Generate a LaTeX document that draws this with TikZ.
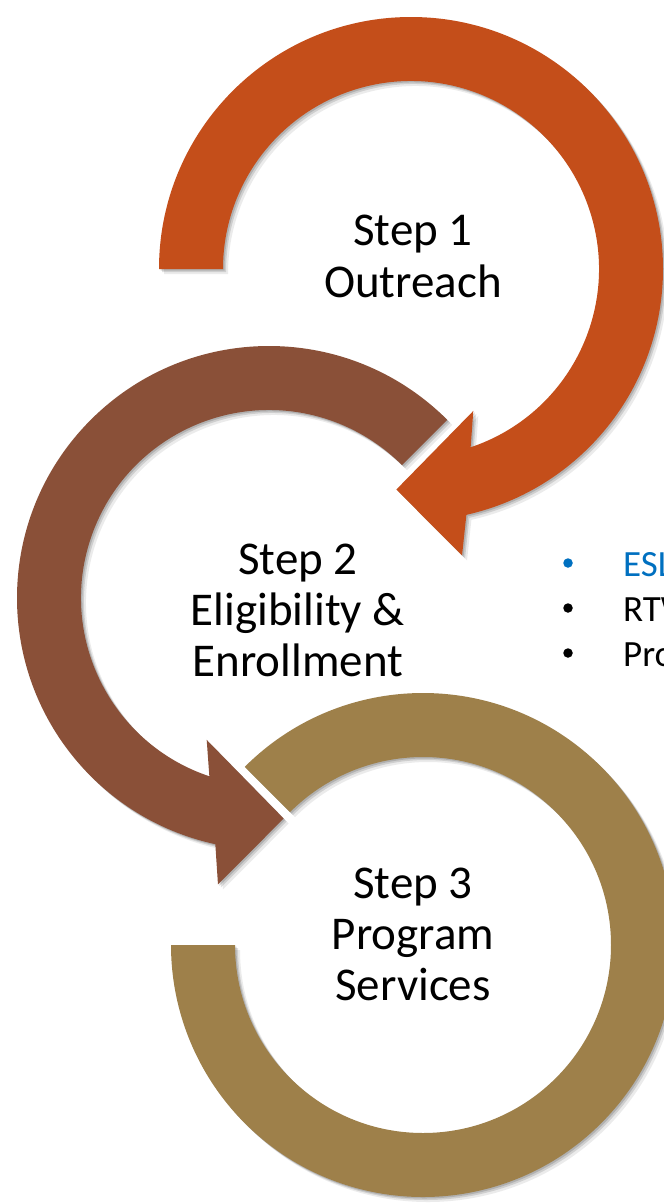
\documentclass[tikz,border=0pt]{standalone}
\usepackage{fontspec}
\setmainfont{Carlito}
\usetikzlibrary{shadows}
\definecolor{ringA}{RGB}{196,78,26}
\definecolor{ringB}{RGB}{138,80,56}
\definecolor{ringC}{RGB}{158,128,74}
\definecolor{bulletblue}{RGB}{0,112,192}
\tikzset{
  softshade/.style={
    drop shadow={shadow xshift=1.5pt, shadow yshift=-1.5pt, opacity=0.14, fill=black},
    drop shadow={shadow xshift=3pt, shadow yshift=-3pt, opacity=0.12, fill=black},
    drop shadow={shadow xshift=5pt, shadow yshift=-5pt, opacity=0.08, fill=black}
  },
  steptext/.style={anchor=base, inner sep=0pt, font=\fontsize{47}{52}\selectfont, text=black},
  bullettext/.style={anchor=base west, inner sep=0pt, font=\fontsize{37}{44}\selectfont},
  bulletdot/.style={circle, inner sep=0pt, minimum size=9.5pt}
}
\begin{document}
\begin{tikzpicture}[x=1pt,y=-1pt]
\useasboundingbox (0,0) rectangle (664,1203);
\fill[white] (0,0) rectangle (664,1203);

% Ring 3 (tan)
\begin{scope}[shift={(423,945)}]
\fill[ringC, softshade] (225:252) arc[start angle=225, end angle=540, radius=252]
  -- (180:188) arc[start angle=540, end angle=225, radius=188] -- cycle;
\end{scope}

% Ring 2 (brown)
\begin{scope}[shift={(269,598)}]
\fill[ringB, softshade] (-45:252) arc[start angle=-45, end angle=-257.7, radius=252]
  -- (100.1:291) -- (86.2:221) -- (113.7:155) -- (108.5:188)
  arc[start angle=108.5, end angle=315, radius=188] -- cycle;
\end{scope}

% Ring 1 (orange)
\begin{scope}[shift={(411,269)}]
\fill[ringA, softshade] (180:252) arc[start angle=180, end angle=437.3, radius=252]
  -- (79.9:291) -- (93.8:221) -- (66.3:155) -- (71.5:188)
  arc[start angle=431.5, end angle=180, radius=188] -- cycle;
\end{scope}

% Step texts
\node[steptext] (s1a) at (413,245) {Step 1};
\node[steptext] (s1b) at (413,297) {Outreach};
\node[steptext] (s2a) at (298,574) {Step 2};
\node[steptext] (s2b) at (298,625) {Eligibility \&};
\node[steptext] (s2c) at (298,676) {Enrollment};
\node[steptext] (s3a) at (413,898) {Step 3};
\node[steptext] (s3b) at (413,949) {Program};
\node[steptext] (s3c) at (413,1000) {Services};

% Bullet list (cut off at right edge)
\node[bulletdot, fill=bulletblue] (b1) at (568,563) {};
\node[bulletdot, fill=black] (b2) at (568,608) {};
\node[bulletdot, fill=black] (b3) at (568,653) {};
\node[bullettext, text=bulletblue] (t1) at (623,576) {ESL};
\node[bullettext, text=black] (t2) at (623,621) {RTW};
\node[bullettext, text=black] (t3) at (623,666) {Pro};
\end{tikzpicture}
\end{document}
